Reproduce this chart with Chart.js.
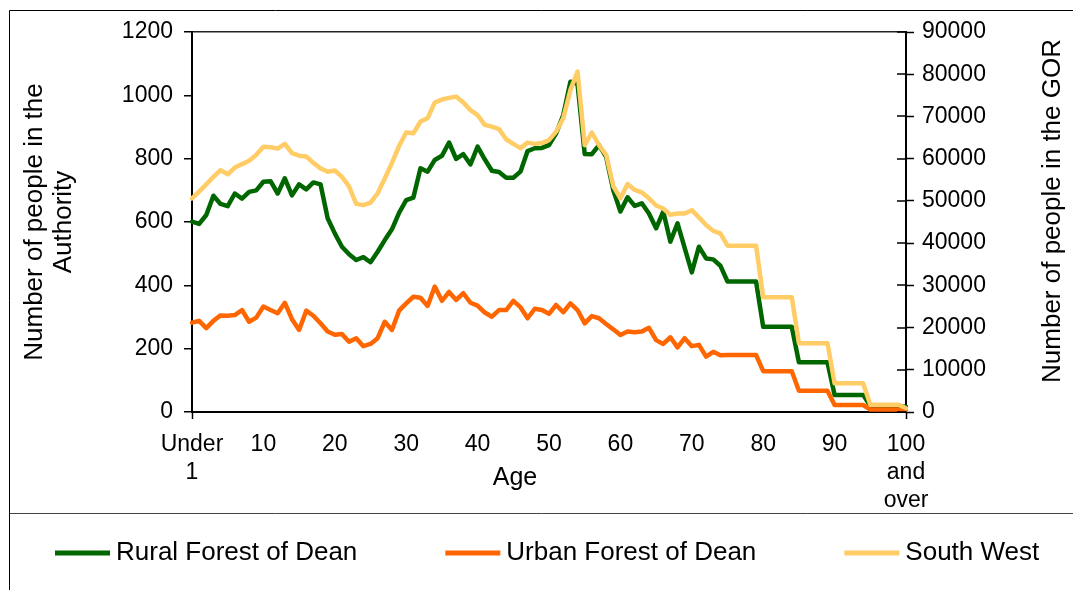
<!DOCTYPE html>
<html><head><meta charset="utf-8">
<script src="https://cdn.jsdelivr.net/npm/chart.js@4.4.1/dist/chart.umd.min.js"></script>
<style>html,body{margin:0;padding:0;background:#fff;}#wrap{width:1073px;height:590px;position:relative;}</style>
</head><body><div id="wrap"><canvas id="c"></canvas></div>
<script>
const ages = ['Under 1','1','2','3','4','5','6','7','8','9','10','11','12','13','14','15','16','17','18','19',
'20','21','22','23','24','25','26','27','28','29','30','31','32','33','34','35','36','37','38','39',
'40','41','42','43','44','45','46','47','48','49','50','51','52','53','54','55','56','57','58','59',
'60','61','62','63','64','65','66','67','68','69','70','71','72','73','74','75','76','77','78','79',
'80','81','82','83','84','85','86','87','88','89','90','91','92','93','94','95','96','97','98','99','100 and over'];
const xTickLabels = [['Under','1'],'10','20','30','40','50','60','70','80','90',['100','and','over']];
const rural = [601,594,622,683,657,650,690,674,695,700,727,729,690,738,684,719,703,725,719,612,
564,522,498,480,489,473,506,543,577,629,669,677,770,759,796,809,851,799,814,782,
838,798,762,758,740,740,759,824,833,834,843,880,938,1043,1035,815,814,843,806,701,
633,678,651,659,627,580,633,538,596,518,441,522,485,482,462,412,412,412,412,412,
269,269,269,269,269,157,157,157,157,157,54,54,54,54,54,19,19,19,19,19,17];
const urban = [282,288,265,288,305,304,306,322,285,298,333,322,312,345,293,259,320,304,280,254,
244,246,222,233,208,215,233,285,259,320,343,364,361,335,396,351,379,354,375,345,
336,314,301,322,322,351,331,296,326,322,310,338,315,343,322,280,303,296,278,261,
243,254,252,254,266,227,215,236,204,233,208,212,175,190,179,180,180,180,180,180,
129,129,129,129,129,67,67,67,67,67,22,22,22,22,22,8,8,8,8,8,8];
const southWest = [50600,52200,53900,55700,57300,56300,57900,58700,59500,60900,62800,62700,62400,63500,61300,60700,60500,59000,57700,56900,
57200,55700,53400,49300,49000,49600,51800,55300,59000,63000,66200,66000,68800,69600,73300,74000,74400,74700,73300,71500,
70300,68000,67600,67000,64600,63500,62500,63800,63500,63700,64400,66400,69600,76300,80600,63200,66200,63200,60900,53500,
50600,54000,52600,52000,50600,48900,48200,46700,47000,47000,47800,46100,44300,42900,42300,39400,39400,39400,39400,39400,
27200,27200,27200,27200,27200,16300,16300,16300,16300,16300,6800,6800,6800,6800,6800,1700,1700,1700,1700,1700,900];
const seriesNames = ['Rural Forest of Dean','Urban Forest of Dean','South West'];
const seriesColors = ['#006600','#FF6600','#FFCC66'];
const leftTitle = ['Number of people in the','Authority'];
const rightTitle = 'Number of people in the GOR';
const xTitle = 'Age';

const FONT = '"Liberation Sans", Arial, sans-serif';

const decorPlugin = {
  id:'decor',
  afterDraw(chart){
    const ctx = chart.ctx;
    ctx.save();
    // frame
    ctx.strokeStyle = '#000'; ctx.lineWidth = 1;
    ctx.beginPath();
    ctx.moveTo(9.5, 590); ctx.lineTo(9.5, 10.5); ctx.lineTo(1073, 10.5);
    ctx.stroke();
    ctx.strokeStyle = '#444';
    ctx.beginPath(); ctx.moveTo(9.5, 513.5); ctx.lineTo(1073, 513.5); ctx.stroke();
    // right axis inner ticks
    const s = chart.scales.y2;
    ctx.strokeStyle = '#000'; ctx.lineWidth = 1.5;
    ctx.beginPath();
    s.ticks.forEach(t => { const y = Math.round(s.getPixelForValue(t.value)); ctx.moveTo(s.left - 9, y); ctx.lineTo(s.left, y); });
    ctx.stroke();
    // titles
    ctx.fillStyle = '#000';
    ctx.font = '26px ' + FONT;
    ctx.textAlign = 'center'; ctx.textBaseline = 'middle';
    const ca = chart.chartArea;
    const cy = (ca.top + ca.bottom) / 2;
    ctx.save(); ctx.translate(35, cy); ctx.rotate(-Math.PI/2); ctx.fillText(leftTitle[0], 0, 0); ctx.restore();
    ctx.save(); ctx.translate(64, cy); ctx.rotate(-Math.PI/2); ctx.fillText(leftTitle[1], 0, 0); ctx.restore();
    ctx.save(); ctx.translate(1053, cy - 11); ctx.rotate(-Math.PI/2); ctx.fillText(rightTitle, 0, 0); ctx.restore();
    ctx.font = '25px ' + FONT;
    ctx.fillText(xTitle, 515, 478);
    // legend
    ctx.font = '26px ' + FONT;
    ctx.textAlign = 'left';
    const sample = 55, gapT = 6, gapI = 88;
    const widths = chart.data.datasets.map(d => sample + gapT + ctx.measureText(d.label).width);
    let x = 55;
    const ly = 553;
    chart.data.datasets.forEach((d, i) => {
      ctx.strokeStyle = d.borderColor; ctx.lineWidth = 5; ctx.lineCap = 'butt';
      ctx.beginPath(); ctx.moveTo(x, ly); ctx.lineTo(x + sample, ly); ctx.stroke();
      ctx.fillStyle = '#000';
      ctx.fillText(d.label, x + sample + gapT, ly);
      x += widths[i] + gapI;
    });
    ctx.restore();
  }
};

new Chart(document.getElementById('c'), {
  type:'line',
  data:{
    labels: ages,
    datasets:[
      {label:seriesNames[0], data:rural, borderColor:seriesColors[0], yAxisID:'y', order:3},
      {label:seriesNames[1], data:urban, borderColor:seriesColors[1], yAxisID:'y', order:2},
      {label:seriesNames[2], data:southWest, borderColor:seriesColors[2], yAxisID:'y2', order:1}
    ]
  },
  options:{
    responsive:true, maintainAspectRatio:false, animation:false,
    layout:{padding:{top:32,left:0,right:0,bottom:76}},
    elements:{line:{borderWidth:4.5, tension:0, borderJoinStyle:'round', borderCapStyle:'round', fill:false}, point:{radius:0, hoverRadius:0}},
    plugins:{legend:{display:false}, tooltip:{enabled:false}},
    scales:{
      x:{
        type:'category', offset:false,
        grid:{drawOnChartArea:false, tickLength:7, tickWidth:1.5, tickColor:c => (c.index % 10 === 0 ? '#000' : 'rgba(0,0,0,0)')},
        border:{color:'#000', width:2},
        ticks:{autoSkip:false, maxRotation:0, minRotation:0, padding:12, color:'#000',
          font:{family:FONT, size:23, lineHeight:1.22},
          callback:(v,i) => (i % 10 === 0 ? xTickLabels[i/10] : null)},
        afterFit:s => { s.height = 102; }
      },
      y:{
        position:'left', min:0, max:1200,
        grid:{drawOnChartArea:true, tickLength:8, tickWidth:1.5, tickColor:'#000', color:c => (c.tick && c.tick.value === 1200 ? '#222' : 'rgba(0,0,0,0)'), lineWidth:1.5},
        border:{color:'#000', width:2},
        ticks:{stepSize:200, padding:11, color:'#000', font:{family:FONT, size:23}, callback:v => String(v)},
        afterFit:s => { s.width = 192; }
      },
      y2:{
        position:'right', min:0, max:90000,
        grid:{drawOnChartArea:false, tickLength:8, tickWidth:1.5, tickColor:'#000'},
        border:{color:'#000', width:2},
        ticks:{stepSize:10000, padding:8, color:'#000', font:{family:FONT, size:23}, callback:v => String(v)},
        afterFit:s => { s.width = 167; }
      }
    }
  },
  plugins:[decorPlugin]
});
</script></body></html>
